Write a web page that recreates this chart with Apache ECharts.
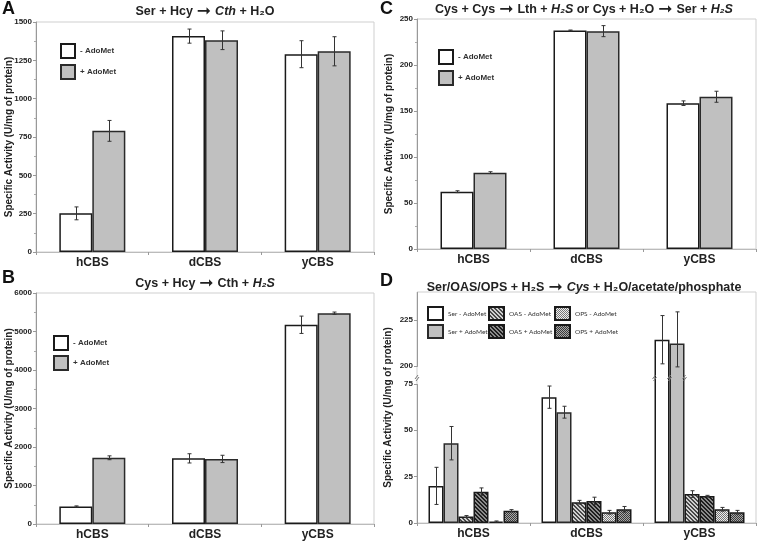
<!DOCTYPE html>
<html><head><meta charset="utf-8">
<script src="https://cdn.jsdelivr.net/npm/echarts@6/dist/echarts.min.js"></script>
<style>html,body{margin:0;padding:0;background:#fff}#c{width:757px;height:542px}</style>
</head><body><div id="c"></div>
<script>
const categories = ['hCBS', 'dCBS', 'yCBS'];

// Panel A: Ser + Hcy -> Cth + H2O
const aTicks = [0, 250, 500, 750, 1000, 1250, 1500];
const aMinus = [252, 1408, 1290];
const aMinusErr = [42, 46, 88];
const aPlus = [790, 1381, 1309];
const aPlusErr = [68, 61, 95];

// Panel B: Cys + Hcy -> Cth + H2S
const bTicks = [0, 1000, 2000, 3000, 4000, 5000, 6000];
const bMinus = [455, 1705, 5175];
const bMinusErr = [15, 120, 225];
const bPlus = [1720, 1690, 5475];
const bPlusErr = [50, 95, 30];

// Panel C: Cys + Cys -> Lth + H2S or Cys + H2O -> Ser + H2S
const cTicks = [0, 50, 100, 150, 200, 250];
const cMinus = [62.3, 237.5, 158.5];
const cMinusErr = [1, 0.5, 2.5];
const cPlus = [83, 236.8, 165.5];
const cPlusErr = [1, 6, 6];

// Panel D: Ser/OAS/OPS + H2S -> Cys + H2O/acetate/phosphate (broken axis 75..200)
const dTicks = [0, 25, 50, 75, 200, 225];
const dBreak = [75, 200];
const dMax = 240;
const dSerMinus = [20, 67.8, 214.3];
const dSerMinusErr = [10, 6, 13];
const dSerPlus = [43, 59.7, 212.3];
const dSerPlusErr = [9, 3.2, 17];
const dOasMinus = [3.5, 11.2, 15.6];
const dOasMinusErr = [0.5, 1, 1.8];
const dOasPlus = [16.9, 11.9, 14.6];
const dOasPlusErr = [2, 2, 0.3];
const dOpsMinus = [0.8, 5.8, 7.4];
const dOpsMinusErr = [0.3, 1, 1];
const dOpsPlus = [6.6, 7.4, 5.8];
const dOpsPlusErr = [0.6, 1.5, 1];

const legendAC = ['- AdoMet', '+ AdoMet'];
const legendD = ['Ser - AdoMet', 'Ser + AdoMet', 'OAS - AdoMet', 'OAS + AdoMet', 'OPS - AdoMet', 'OPS + AdoMet'];
const yName = 'Specific Activity (U/mg of protein)';

const FF = 'Liberation Sans, Arial, sans-serif';

function pattern(kind) {
  const cv = document.createElement('canvas');
  const n = 4; cv.width = n; cv.height = n;
  const g = cv.getContext('2d');
  let bg, fg;
  if (kind === 'diagL') { bg = '#d0d0d0'; fg = '#484848'; }
  else if (kind === 'diagD') { bg = '#8a8a8a'; fg = '#1e1e1e'; }
  else if (kind === 'chkL') { bg = '#eeeeee'; fg = '#777777'; }
  else { bg = '#a8a8a8'; fg = '#3a3a3a'; }
  g.fillStyle = bg; g.fillRect(0, 0, n, n);
  g.fillStyle = fg;
  if (kind.startsWith('diag')) {
    for (let i = 0; i < n; i++) { g.fillRect(i, i, 1, 1); g.fillRect((i + 1) % n, i, 1, 1); }
  } else {
    g.fillRect(0, 0, 1, 1); g.fillRect(2, 0, 1, 1); g.fillRect(1, 1, 1, 1); g.fillRect(3, 1, 1, 1);
    g.fillRect(0, 2, 1, 1); g.fillRect(2, 2, 1, 1); g.fillRect(1, 3, 1, 1); g.fillRect(3, 3, 1, 1);
  }
  return { image: cv, repeat: 'repeat' };
}

const whiteStyle = { color: '#ffffff', borderColor: '#1a1a1a', borderWidth: 1.5 };
const grayStyle = { color: '#c0c0c0', borderColor: '#2a2a2a', borderWidth: 1.5 };

function bar(name, data, gi, bw, style) {
  return { type: 'bar', name, data, xAxisIndex: gi, yAxisIndex: gi, barWidth: bw, barGap: '0%',
    itemStyle: style, silent: true, z: 2 };
}

function errSeries(gi, groups, bw) {
  const data = [];
  groups.forEach((g, si) => g[0].forEach((v, ci) => data.push([ci, v, g[1][ci], si])));
  const n = groups.length;
  return {
    type: 'custom', xAxisIndex: gi, yAxisIndex: gi, z: 5, silent: true, data,
    renderItem(params, api) {
      const ci = api.value(0), v = api.value(1), e = api.value(2), si = api.value(3);
      const off = (si - (n - 1) / 2) * bw;
      const top = api.coord([ci, v + e]);
      const bot = api.coord([ci, v - e]);
      const x = Math.round(top[0] + off) + 0.5;
      const cap = 2;
      const st = { stroke: '#333', lineWidth: 1 };
      return { type: 'group', children: [
        { type: 'line', shape: { x1: x, y1: top[1], x2: x, y2: bot[1] }, style: st },
        { type: 'line', shape: { x1: x - cap, y1: top[1], x2: x + cap, y2: top[1] }, style: st },
        { type: 'line', shape: { x1: x - cap, y1: bot[1], x2: x + cap, y2: bot[1] }, style: st }
      ] };
    }
  };
}

// small "//" break marks on bars that cross the axis break, and on the y axis
function breakMarks(gi, seriesData, bw) {
  const data = [];
  const n = seriesData.length;
  seriesData.forEach((d, si) => d.forEach((v, ci) => { if (v > dBreak[1]) data.push([ci, v, si]); }));
  data.push([-1, 0, -1]);
  return {
    type: 'custom', xAxisIndex: gi, yAxisIndex: gi, z: 6, silent: true, data, clip: false,
    renderItem(params, api) {
      const ci = api.value(0), si = api.value(2);
      const lo = api.coord([Math.max(ci, 0), dBreak[0]])[1];
      const hi = api.coord([Math.max(ci, 0), dBreak[1]])[1];
      const y = (lo + hi) / 2 + 3;
      const st = { stroke: '#777', lineWidth: 1 };
      const xs = [];
      if (ci < 0) {
        xs.push(params.coordSys.x);
      } else {
        const c = api.coord([ci, 0])[0] + (si - (n - 1) / 2) * bw;
        xs.push(c - bw / 2, c + bw / 2);
      }
      const children = [];
      xs.forEach(x => {
        children.push({ type: 'line', shape: { x1: x - 2, y1: y + 1, x2: x + 1, y2: y - 3 }, style: st });
        children.push({ type: 'line', shape: { x1: x - 1, y1: y + 3, x2: x + 2, y2: y - 1 }, style: st });
      });
      return { type: 'group', children };
    }
  };
}

const plainLabel = (v) => String(v);

function xAx(gi) {
  return { type: 'category', gridIndex: gi, data: categories,
    axisLine: { show: true, lineStyle: { color: '#bbb', width: 1 } },
    axisTick: { show: true, length: 3, lineStyle: { color: '#999' } },
    splitLine: { show: false },
    axisLabel: { fontFamily: FF, fontWeight: 'bold', fontSize: 12, color: '#222', margin: 5 } };
}

function yAx(gi, ticks, gap, extra) {
  return Object.assign({ type: 'value', gridIndex: gi, min: ticks[0], max: ticks[ticks.length - 1],
    interval: ticks[1] - ticks[0],
    name: yName, nameLocation: 'middle', nameRotate: 90, nameGap: gap, nameMoveOverlap: false,
    nameTextStyle: { fontFamily: FF, fontWeight: 'bold', fontSize: 10, color: '#222' },
    axisLine: { show: true, lineStyle: { color: '#999', width: 1 } },
    axisTick: { show: true, length: 3, lineStyle: { color: '#999' } },
    minorTick: { show: true, splitNumber: 2, length: 2, lineStyle: { color: '#aaa' } },
    splitLine: { show: false }, minorSplitLine: { show: false },
    axisLabel: { fontFamily: FF, fontWeight: 'bold', fontSize: 8, color: '#222', margin: 4, formatter: plainLabel } }, extra || {});
}

function grid(left, top, width, height) {
  return { left, top, width, height, show: true, borderColor: '#cfcfcf', borderWidth: 1,
    backgroundColor: 'transparent', containLabel: false, outerBoundsMode: 'none' };
}

function legend(left, top, names, w, h, gapv, textStyle) {
  return { left, top, orient: 'vertical', padding: 0, itemWidth: w, itemHeight: h, itemGap: gapv,
    icon: 'rect', selectedMode: false, data: names, textStyle };
}

const legTextAC = { fontFamily: FF, fontWeight: 'bold', fontSize: 8, color: '#333' };
const legTextD = { fontFamily: 'Lato, Liberation Sans, sans-serif', fontWeight: 'normal', fontSize: 6.5, color: '#333' };

function rs(style) {
  return { fontFamily: FF, fontWeight: 'bold', fontSize: 12.5, color: '#222', fontStyle: style || 'normal' };
}
function title(x, y, text) {
  return { type: 'text', x, y, silent: true,
    style: { text, rich: { n: rs(), i: rs('italic'),
        a: { fontFamily: 'DejaVu Sans, sans-serif', fontWeight: 'normal', fontSize: 17, color: '#222', padding: [0, 4, 0, 4] } },
      align: 'center', verticalAlign: 'middle',
      textAlign: 'center', textVerticalAlign: 'middle', fontFamily: FF, fontWeight: 'bold', fontSize: 12.5, fill: '#222' } };
}
function letter(x, y, t) {
  return { type: 'text', x, y, silent: true,
    style: { text: t, fontFamily: FF, fontWeight: 'bold', fontSize: 18, fill: '#111', align: 'left', verticalAlign: 'top' } };
}

const bwAC = 33, bwD = 15;
const pOASm = pattern('diagL'), pOASp = pattern('diagD'), pOPSm = pattern('chkL'), pOPSp = pattern('chkD');
const dStyles = [
  whiteStyle, grayStyle,
  { color: pOASm, borderColor: '#1a1a1a', borderWidth: 1.5 },
  { color: pOASp, borderColor: '#1a1a1a', borderWidth: 1.5 },
  { color: pOPSm, borderColor: '#1a1a1a', borderWidth: 1.5 },
  { color: pOPSp, borderColor: '#1a1a1a', borderWidth: 1.5 }
];
const dSeriesData = [dSerMinus, dSerPlus, dOasMinus, dOasPlus, dOpsMinus, dOpsPlus];
const dErrData = [dSerMinusErr, dSerPlusErr, dOasMinusErr, dOasPlusErr, dOpsMinusErr, dOpsPlusErr];

const option = {
  animation: false,
  backgroundColor: '#ffffff',
  grid: [grid(36, 22, 338, 230), grid(36, 293, 338, 231), grid(417, 19, 339, 230), grid(417, 292, 339, 231)],
  xAxis: [xAx(0), xAx(1), xAx(2), xAx(3)],
  yAxis: [
    yAx(0, aTicks, 22),
    yAx(1, bTicks, 22),
    yAx(2, cTicks, 23),
    yAx(3, dTicks, 24, {
      max: dMax, interval: 25, minorTick: { show: false },
      axisLabel: { fontFamily: FF, fontWeight: 'bold', fontSize: 8, color: '#222', margin: 4, showMaxLabel: false,
        formatter: (v) => (dTicks.indexOf(v) >= 0 ? String(v) : '') },
      breaks: [{ start: dBreak[0], end: dBreak[1], gap: '7.6%' }],
      breakArea: { show: false }
    })
  ],
  legend: [
    legend(60, 43, legendAC, 14, 14, 5, legTextAC),
    legend(53, 335, legendAC, 14, 14, 4, legTextAC),
    legend(438, 49, legendAC, 14, 14, 5, legTextAC),
    legend(427, 306, legendD.slice(0, 2), 15, 13, 3, legTextD),
    legend(488, 306, legendD.slice(2, 4), 15, 13, 3, legTextD),
    legend(554, 306, legendD.slice(4, 6), 15, 13, 3, legTextD)
  ],
  graphic: [
    letter(2, 0, 'A'), letter(2, 269, 'B'), letter(380, 0, 'C'), letter(380, 272, 'D'),
    title(205, 12, '{n|Ser + Hcy}{a|➞}{i|Cth}{n| + H₂O}'),
    title(205, 284, '{n|Cys + Hcy}{a|➞}{n|Cth + }{i|H₂S}'),
    title(584, 10, '{n|Cys + Cys}{a|➞}{n|Lth + }{i|H₂S}{n| or Cys + H₂O}{a|➞}{n|Ser + }{i|H₂S}'),
    title(584, 288, '{n|Ser/OAS/OPS + H₂S}{a|➞}{i|Cys}{n| + H₂O/acetate/phosphate}')
  ],
  series: [
    bar(legendAC[0], aMinus, 0, bwAC, whiteStyle),
    bar(legendAC[1], aPlus, 0, bwAC, grayStyle),
    errSeries(0, [[aMinus, aMinusErr], [aPlus, aPlusErr]], bwAC),
    bar(legendAC[0], bMinus, 1, bwAC, whiteStyle),
    bar(legendAC[1], bPlus, 1, bwAC, grayStyle),
    errSeries(1, [[bMinus, bMinusErr], [bPlus, bPlusErr]], bwAC),
    bar(legendAC[0], cMinus, 2, bwAC, whiteStyle),
    bar(legendAC[1], cPlus, 2, bwAC, grayStyle),
    errSeries(2, [[cMinus, cMinusErr], [cPlus, cPlusErr]], bwAC),
    ...dSeriesData.map((d, i) => bar(legendD[i], d, 3, bwD, dStyles[i])),
    errSeries(3, dSeriesData.map((d, i) => [d, dErrData[i]]), bwD),
    breakMarks(3, dSeriesData, bwD)
  ]
};

const chart = echarts.init(document.getElementById('c'), null, { renderer: 'canvas' });
chart.setOption(option);
</script>
</body></html>
